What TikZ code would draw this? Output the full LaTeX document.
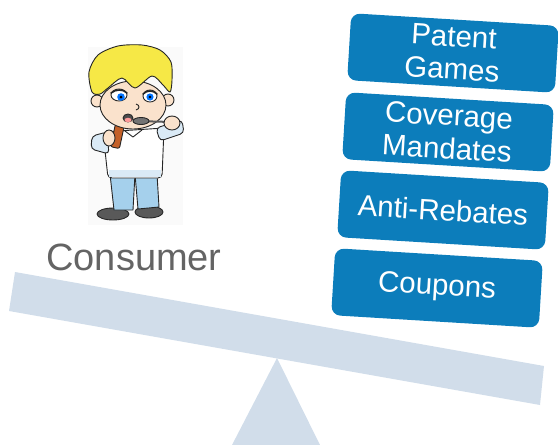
\documentclass[tikz,border=0pt]{standalone}
\usepackage{fontspec}
\setmainfont{Liberation Sans}
\usetikzlibrary{positioning}

\definecolor{boxblue}{RGB}{12,125,187}
\definecolor{beamblue}{RGB}{209,221,234}
\definecolor{labelgray}{RGB}{100,100,100}
\definecolor{hairyellow}{RGB}{246,232,70}
\definecolor{skin}{RGB}{250,226,204}
\definecolor{jeans}{RGB}{165,208,236}
\definecolor{sleeve}{RGB}{218,234,246}
\definecolor{cupbrown}{RGB}{196,96,40}

\tikzset{
  weight/.style={fill=boxblue, rounded corners=9pt, minimum width=208pt,
    minimum height=67pt, inner sep=0pt, text=white, align=center,
    font=\fontsize{29.5}{33}\selectfont, rotate=-3.5},
  outline/.style={draw=black!85, line width=0.9pt, line join=round},
}

\begin{document}
\begin{tikzpicture}[x=1pt,y=-1pt]
\useasboundingbox (0,0) rectangle (558,445);

% seesaw: fulcrum and tilted beam
\fill[beamblue] (277,358) -- (320,445) -- (232,445) -- cycle;
\fill[beamblue] (15,272) -- (544,366) -- (540,405) -- (9,311) -- cycle;

% the weights stacked on the low end
\node[weight] (patent) at (453,53) {Patent\\Games};
\node[weight] (mandates) at (448,132) {Coverage\\Mandates};
\node[weight] (rebates) at (443,210) {Anti-Rebates};
\node[weight] (coupons) at (437,288) {Coupons};

% the boy on the high end
\fill[black!2] (88,47) rectangle (183,225);
% shoes
\filldraw[outline, fill=black!65] (113,214) ellipse (16 and 6);
\filldraw[outline, fill=black!65] (149,212) ellipse (14 and 6);
% legs
\filldraw[outline, fill=jeans] (110,174) -- (135,174) -- (133,210) -- (114,210) -- cycle;
\filldraw[outline, fill=jeans] (135,174) -- (157,174) -- (159,207) -- (138,209) -- cycle;
% shirt and sleeves
\filldraw[outline, fill=white, rounded corners=4pt] (103,132) -- (164,128) -- (162,178) -- (108,178) -- cycle;
\fill[sleeve] (109,170) rectangle (161,177);
\draw[outline] (125,131) -- (133,137) -- (142,130);
\filldraw[outline, fill=sleeve, rounded corners=4pt] (107,132) -- (92,136) -- (91,149) -- (109,154) -- cycle;
\filldraw[outline, fill=sleeve, rounded corners=4pt] (156,128) -- (182,120) -- (184,133) -- (160,141) -- cycle;
% cup in the left hand
\filldraw[outline, fill=cupbrown, rounded corners=2pt, rotate around={-12:(118,136)}] (113,125) rectangle (122,148);
\filldraw[outline, fill=skin] (109,138) ellipse (6 and 8);
% ears and face
\filldraw[outline, fill=skin] (97,101) circle (6);
\filldraw[outline, fill=skin] (168,100) circle (6);
\filldraw[outline, fill=skin] (133,105) ellipse (33 and 24);
% hair
\filldraw[outline, fill=hairyellow] plot[smooth cycle, tension=0.5] coordinates {
  (92,92) (89,72) (98,55) (118,46) (142,45) (160,50) (171,62)
  (172,80) (170,92) (163,85) (152,76) (135,88) (122,78) (108,88) (100,94)};
% eyes
\filldraw[outline, fill=white] (119,95) ellipse (8 and 6);
\filldraw[outline, fill=white] (150,96) ellipse (7 and 6);
\fill[blue!55!cyan] (121,97) circle (3.8);
\fill[blue!55!cyan] (150,97) circle (3.6);
\fill[black] (121,97) circle (1.5);
\fill[black] (150,97) circle (1.4);
\draw[black!85, line width=1.6pt, line cap=round] (111,93) .. controls (116,89) and (123,89) .. (127,93);
\draw[black!85, line width=1.6pt, line cap=round] (143,94) .. controls (147,90) and (153,90) .. (157,94);
% nose and mouth
\draw[outline] (136,104) .. controls (140,105) and (140,109) .. (136,110);
\filldraw[outline, fill=black!70] (128,118) ellipse (5 and 4);
\fill[pink!80!red] (128,120) ellipse (3.5 and 2.2);
% spoon and right hand
\draw[black!65, line width=2pt, line cap=round] (134,121) -- (172,122);
\filldraw[outline, fill=black!55] (141,121) ellipse (8 and 3.5);
\filldraw[outline, fill=skin] (172,123) ellipse (8 and 7);

\node[text=labelgray, font=\fontsize{38}{40}\selectfont, anchor=base] (consumer) at (134,270) {Consumer};
\end{tikzpicture}
\end{document}
